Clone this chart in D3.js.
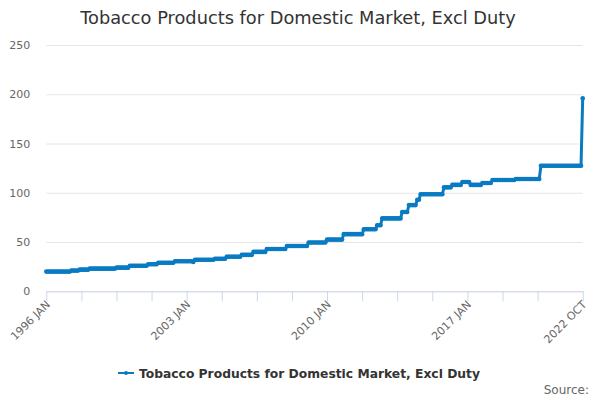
<!DOCTYPE html>
<html>
<head>
<meta charset="utf-8">
<script src="https://cdn.jsdelivr.net/npm/d3@7"></script>
<style>
  body { margin: 0; background: #fff; }
  svg { font-family: "DejaVu Sans", sans-serif; }
</style>
</head>
<body>
<div id="chart"></div>
<script>
// monthly values, one row per year, 1996 JAN .. 2022 OCT
var values = [
  20, 20, 20, 20, 20, 20, 20, 20, 20, 20, 20, 20,
  20, 20, 20, 21, 21, 21, 21, 21, 22, 22, 22, 22,
  22, 22, 23, 23, 23, 23, 23, 23, 23, 23, 23, 23,
  23, 23, 23, 23, 23, 23, 24, 24, 24, 24, 24, 24,
  24, 24, 26, 26, 26, 26, 26, 26, 26, 26, 26, 26,
  26, 27.5, 27.5, 27.5, 27.5, 27.5, 27.5, 29, 29, 29, 29, 29,
  29, 29, 29, 29, 29, 30.5, 30.5, 30.5, 30.5, 30.5, 30.5, 30.5,
  30.5, 30.5, 30.5, 30.5, 29.8, 32, 32, 32, 32, 32, 32, 32,
  32, 32, 32, 32, 32, 33, 33, 33, 33, 33, 33, 33,
  35, 35, 35, 35, 35, 35, 35, 35, 35, 37, 37, 37,
  37, 37, 37, 37, 40, 40, 40, 40, 40, 40, 40, 40,
  43, 43, 43, 43, 43, 43, 43, 43, 43, 43, 43, 43,
  46, 46, 46, 46, 46, 46, 46, 46, 46, 46, 46, 46,
  46, 49.5, 49.5, 49.5, 49.5, 49.5, 49.5, 49.5, 49.5, 49.5, 49.5, 49.5,
  52.5, 52.5, 52.5, 52.5, 52.5, 52.5, 52.5, 52.5, 52.5, 52.5, 58, 58,
  58, 58, 58, 58, 58, 58, 58, 58, 58, 58, 63, 63,
  63, 63, 63, 63, 63, 63, 67, 67, 67, 74, 74, 74,
  74, 74, 74, 74, 74, 74, 74, 74, 74, 80.5, 80.5, 80.5,
  80.5, 87.5, 87.5, 87.5, 87.5, 87.5, 93, 93, 98.5, 98.5, 98.5, 98.5,
  98.5, 98.5, 98.5, 98.5, 98.5, 98.5, 98.5, 98.5, 98.5, 98.5, 105.5, 105.5,
  105.5, 105.5, 105.5, 108, 108, 108, 108, 108, 108, 111, 111, 111,
  111, 111, 108, 108, 108, 108, 108, 108, 108, 110, 110, 110,
  110, 110, 110, 113, 113, 113, 113, 113, 113, 113, 113, 113,
  113, 113, 113, 113, 113, 114, 114, 114, 114, 114, 114, 114,
  114, 114, 114, 114, 114, 114, 114, 114, 127.5, 127.5, 127.5, 127.5,
  127.5, 127.5, 127.5, 127.5, 127.5, 127.5, 127.5, 127.5, 127.5, 127.5, 127.5, 127.5,
  127.5, 127.5, 127.5, 127.5, 127.5, 127.5, 127.5, 127.5, 127.5, 196
];
var startYear = 1996;
var monthNames = ["JAN", "FEB", "MAR", "APR", "MAY", "JUN", "JUL", "AUG", "SEP", "OCT", "NOV", "DEC"];
var yTicks = [0, 50, 100, 150, 200, 250];
var xTickIdx = [0, 21, 42, 63, 84, 105, 126, 147, 168, 189, 210, 231, 252, 273, 294, 321];
var xLabelIdx = [0, 84, 168, 252, 321];
var seriesName = "Tobacco Products for Domestic Market, Excl Duty";
var title = "Tobacco Products for Domestic Market, Excl Duty";
var source = "Source:";

var color = "#0a7bc2";
var width = 600, height = 400;
var plot = {left: 46.3, right: 582.7, top: 45, bottom: 291.3};

function monthLabel(i) {
    return (startYear + Math.floor(i / 12)) + " " + monthNames[i % 12];
}

var data = values.map(function(v, i) { return [i, v]; });

var svg = d3.select("#chart").append("svg")
    .attr("width", width)
    .attr("height", height);

var x = d3.scaleLinear()
    .domain([0, values.length - 1])
    .range([plot.left, plot.right]);

var y = d3.scaleLinear()
    .domain([0, 250])
    .range([plot.bottom, plot.top]);

// title
svg.append("text")
    .attr("x", 298)
    .attr("y", 24)
    .attr("text-anchor", "middle")
    .attr("fill", "#333333")
    .style("font-size", "17.8px")
    .text(title);

// grid + y labels
var yAxis = svg.append("g")
    .attr("transform", "translate(" + plot.left + ",0)")
    .call(d3.axisLeft(y).tickValues(yTicks).tickSize(-(plot.right - plot.left)).tickPadding(16));
yAxis.select(".domain").remove();
yAxis.selectAll(".tick line").attr("stroke", "#e6e6e6");
yAxis.selectAll(".tick text")
    .attr("fill", "#666666")
    .style("font-size", "11px")
    .style("font-family", "DejaVu Sans, sans-serif");

// x axis
var xAxis = svg.append("g")
    .attr("transform", "translate(0," + plot.bottom + ")")
    .call(d3.axisBottom(x).tickValues(xTickIdx).tickSize(10).tickSizeOuter(0)
        .tickFormat(function(i) { return xLabelIdx.indexOf(i) >= 0 ? monthLabel(i) : ""; }));
xAxis.select(".domain").attr("stroke", "#ccd6eb").attr("d", "M" + plot.left + ",0.5H" + (plot.right + 1));
xAxis.selectAll(".tick line").attr("stroke", "#ccd6eb");
xAxis.selectAll(".tick text")
    .attr("fill", "#666666")
    .style("font-size", "11px")
    .style("font-family", "DejaVu Sans, sans-serif")
    .attr("text-anchor", "end")
    .attr("dy", null)
    .attr("transform", "translate(4,14) rotate(-45)")
    .attr("y", 0)
    .attr("x", 0);

// series line
var line = d3.line()
    .x(function(d) { return x(d[0]); })
    .y(function(d) { return y(d[1]); });

svg.append("path")
    .datum(data)
    .attr("fill", "none")
    .attr("stroke", color)
    .attr("stroke-width", 3)
    .attr("stroke-linejoin", "round")
    .attr("d", line);

svg.append("g").selectAll("circle")
    .data(data)
    .enter()
    .append("circle")
    .attr("cx", function(d) { return x(d[0]); })
    .attr("cy", function(d) { return y(d[1]); })
    .attr("r", 2.3)
    .attr("fill", color);

// legend
var legend = svg.append("g").attr("transform", "translate(118,373)");
legend.append("line")
    .attr("x1", 0).attr("x2", 16)
    .attr("y1", 0).attr("y2", 0)
    .attr("stroke", color)
    .attr("stroke-width", 2);
legend.append("circle")
    .attr("cx", 8).attr("cy", 0).attr("r", 2)
    .attr("fill", color);
legend.append("text")
    .attr("x", 21)
    .attr("y", 4.5)
    .attr("fill", "#333333")
    .style("font-size", "12.3px")
    .style("font-weight", "bold")
    .text(seriesName);

// source credit
svg.append("text")
    .attr("x", 589)
    .attr("y", 394)
    .attr("text-anchor", "end")
    .attr("fill", "#666666")
    .style("font-size", "12px")
    .text(source);
</script>
</body>
</html>
